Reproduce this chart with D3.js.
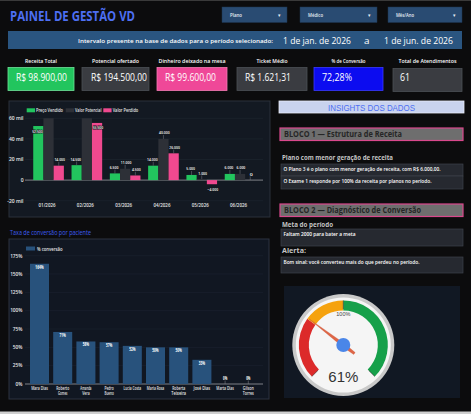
<!DOCTYPE html>
<html>
<head>
<meta charset="utf-8">
<script src="https://cdn.jsdelivr.net/npm/d3@7"></script>
<style>
  html, body { margin: 0; padding: 0; background: #0c0c0d; overflow: hidden; }
  svg { display: block; font-family: "Open Sans", sans-serif; }
</style>
</head>
<body>
<div id="painel"></div>
<script>
// ---- dados ----
const filtros = ["Plano", "Médico", "Mês/Ano"];
const periodoInicio = "1 de jan. de 2026";
const periodoFim = "1 de jun. de 2026";

const kpiTitulos = ["Receita Total", "Potencial ofertado", "Dinheiro deixado na mesa", "Ticket Médio", "% de Conversão", "Total de Atendimentos"];
const kpiValores = ["R$ 98.900,00", "R$ 194.500,00", "R$ 99.600,00", "R$ 1.621,31", "72,28%", "61"];

const meses = ["01/2026", "02/2026", "03/2026", "04/2026", "05/2026", "06/2026"];
const precoVendido = [52500, 14500, 6500, 14000, 5000, 6000];
const valorPotencial = [66500, 70000, 11000, 40000, 1000, 6000];
const valorPerdido = [14000, 55500, 4500, 26000, -4000, 0];
const ticksReceita = [-20000, 0, 20000, 40000, 60000];

const pacientes = ["Mara Dias", "Roberto Gomes", "Amanda Vera", "Pedro Bueno", "Lucia Costa", "Maria Rosa", "Roberta Teixeira", "José Dias", "Marta Dias", "Gilson Torres"];
const conversao = [164, 71, 58, 57, 52, 50, 50, 33, 0, 0];
const ticksConversao = [0, 25, 50, 75, 100, 125, 150, 175];
const nomesEmDuasLinhas = ["Roberto Gomes", "Amanda Vera", "Pedro Bueno", "Roberta Teixeira", "Gilson Torres"];

const conversaoGeral = 61;
const faixasGauge = [0, 60, 100, 200];

const W = 471, H = 414;
const svg = d3.select("#painel").append("svg").attr("width", W).attr("height", H);

svg.append("rect").attr("width", W).attr("height", H).attr("fill", "#0c0c0d");
svg.append("rect").attr("width", W).attr("height", 1).attr("fill", "#3a3a3a");
svg.append("rect").attr("y", 411.5).attr("width", W).attr("height", 3).attr("fill", "#cfcfcf");

// texto com largura fixa
function txt(g, x, y, s, size, fill, o = {}) {
    const t = g.append("text").attr("x", x).attr("y", y).text(s)
        .attr("font-size", size).attr("fill", fill);
    if (o.w) t.attr("textLength", o.w).attr("lengthAdjust", "spacingAndGlyphs");
    if (o.anchor) t.attr("text-anchor", o.anchor);
    if (o.weight) t.attr("font-weight", o.weight);
    if (o.family) t.attr("font-family", o.family);
    return t;
}

// ---- cabeçalho ----
txt(svg, 10, 20.5, "PAINEL DE GESTÃO VD", 13.5, "#4d6ff2", { w: 125, weight: 700 });

const dropX = [[222, 287], [300, 377], [388, 462]];
const dropW = [12, 15, 18];
filtros.forEach((f, i) => {
    svg.append("rect").attr("x", dropX[i][0]).attr("y", 7).attr("width", dropX[i][1] - dropX[i][0])
        .attr("height", 15.5).attr("fill", "#294b72").attr("stroke", "#1d3550").attr("stroke-width", 0.5);
    txt(svg, dropX[i][0] + 8, 16.5, f, 4.5, "#e8eef5", { w: dropW[i], weight: 600 });
    txt(svg, dropX[i][1] - 8, 16.5, "▾", 5, "#e8eef5", { anchor: "middle" });
});

svg.append("rect").attr("x", 8).attr("y", 31).attr("width", 454).attr("height", 18).attr("fill", "#2a5580");
txt(svg, 78, 43, "Intervalo presente na base de dados para o período selecionado:", 6, "#ffffff", { w: 195, weight: 600 });
txt(svg, 283, 43.5, periodoInicio, 9.5, "#ffffff", { w: 68 });
txt(svg, 364, 44, "a", 9.5, "#ffffff", { w: 5.5 });
txt(svg, 384, 43.5, periodoFim, 9.5, "#ffffff", { w: 69 });

// ---- KPIs ----
const kpiBox = [[8, 74], [82, 149], [157, 227], [237, 307], [314, 383], [393, 462]];
const kpiFill = ["#22c55e", "#3a3c41", "#ef4898", "#3a3c41", "#0c0cf0", "#3a3c41"];
const kpiStroke = ["#6fe39a", "#4d5056", "#f47ab4", "#4d5056", "#3a3aff", "#4d5056"];
const kpiTitW = [32, 47, 67, 31, 34, 58];
const kpiValX = [16, 91, 165, 245, 322, 400];
const kpiValW = [51, 56, 51, 46, 30, 10];
kpiTitulos.forEach((k, i) => {
    const [x0, x1] = kpiBox[i];
    txt(svg, (x0 + x1) / 2, 63, k, 5.5, "#ffffff", { w: kpiTitW[i], anchor: "middle", weight: 600 });
    svg.append("rect").attr("x", x0).attr("y", i === 5 ? 68.5 : 67.5).attr("width", x1 - x0).attr("height", 23)
        .attr("fill", kpiFill[i]).attr("stroke", kpiStroke[i]).attr("stroke-width", 0.8);
    txt(svg, kpiValX[i], 80.5, kpiValores[i], 10, "#ffffff", { w: kpiValW[i] });
});

// ---- gráfico de receita por mês ----
const g1 = svg.append("g");
g1.append("rect").attr("x", 9).attr("y", 101).attr("width", 261).attr("height", 116)
    .attr("fill", "#131922").attr("stroke", "#2b313b").attr("stroke-width", 1);

const y1 = d3.scaleLinear().domain([-20000, 60000]).range([200.7, 118.3]);
const x1 = d3.scaleBand().domain(meses).range([29.4, 259.2]).paddingInner(0.2).paddingOuter(0.1);
const series = [
    { nome: "Preço Vendido", valores: precoVendido, cor: "#22c55e" },
    { nome: "Valor Potencial", valores: valorPotencial, cor: "#2d3037" },
    { nome: "Valor Perdido", valores: valorPerdido, cor: "#f0498f" }
];
const xs = d3.scaleBand().domain(series.map(s => s.nome)).range([0, x1.bandwidth()]);

g1.selectAll(".grid").data(ticksReceita).enter().append("line")
    .attr("x1", 25).attr("x2", 263).attr("y1", d => y1(d)).attr("y2", d => y1(d))
    .attr("stroke", d => d === 0 ? "#8a8d93" : "#1f2631").attr("stroke-width", d => d === 0 ? 0.9 : 0.6);

const fmtMil = d => d === 0 ? "0" : (d / 1000) + " mil";
g1.selectAll(".ytk").data(ticksReceita).enter().append("text")
    .attr("x", 23.5).attr("y", d => y1(d) + 1.8).attr("text-anchor", "end")
    .attr("font-size", 5).attr("font-weight", 600).attr("fill", "#e6e6e6").text(fmtMil);

g1.selectAll(".xtk").data(meses).enter().append("text")
    .attr("x", d => x1(d) + x1.bandwidth() / 2 - 1.5).attr("y", 207)
    .attr("text-anchor", "middle").attr("font-size", 5).attr("font-weight", 600).attr("fill", "#e6e6e6")
    .attr("textLength", 17).attr("lengthAdjust", "spacingAndGlyphs").text(d => d);

g1.append("clipPath").attr("id", "clipReceita").append("rect")
    .attr("x", 20).attr("y", y1(60000)).attr("width", 250).attr("height", y1(-20000) - y1(60000));

const fmtNum = d3.formatLocale({ decimal: ",", thousands: ".", grouping: [3], currency: ["R$ ", ""] }).format(",.0f");
const barras = [];
series.forEach((s, si) => s.valores.forEach((v, i) => barras.push({ serie: s, si, mes: meses[i], v })));

const gb = g1.append("g").attr("clip-path", "url(#clipReceita)");
gb.selectAll("rect").data(barras).enter().append("rect")
    .attr("x", d => x1(d.mes) + xs(d.serie.nome))
    .attr("y", d => y1(Math.max(0, d.v)))
    .attr("width", xs.bandwidth())
    .attr("height", d => Math.abs(y1(d.v) - y1(0)))
    .attr("fill", d => d.serie.cor);

const desloc = [-0.9, 0.9, 0.9];
barras.filter(d => d.v <= 60000).forEach(d => {
    const cx = x1(d.mes) + xs(d.serie.nome) + xs.bandwidth() / 2;
    let ly;
    if (d.v > 48000) ly = y1(d.v) + 6.5;
    else if (d.v < 0) ly = y1(d.v) + 7;
    else {
        ly = y1(d.v) - 4.5;
        const top = y1(d.v);
        g1.append("line").attr("x1", cx).attr("x2", cx).attr("y1", top).attr("y2", top - 4)
            .attr("stroke", "#7c7f86").attr("stroke-width", 0.5);
    }
    const s = fmtNum(d.v);
    g1.append("text").attr("x", cx + desloc[d.si]).attr("y", ly).attr("text-anchor", "middle")
        .attr("font-size", 4.3).attr("font-weight", 600).attr("fill", "#ffffff")
        .attr("stroke", "#15181e").attr("stroke-width", 1.2).attr("paint-order", "stroke")
        .attr("textLength", Math.max(3, s.length * 1.75)).attr("lengthAdjust", "spacingAndGlyphs")
        .text(s);
});

const legX = [[26.7, 36], [65.7, 75], [103.3, 112.7]];
const legW = [27, 26.5, 25.5];
series.forEach((s, i) => {
    g1.append("rect").attr("x", legX[i][0]).attr("y", 108.3).attr("width", 8.3).attr("height", 4).attr("fill", s.cor);
    txt(g1, legX[i][1], 112, s.nome, 4.8, "#e6e6e6", { w: legW[i], weight: 600 });
});

// ---- insights ----
const gi = svg.append("g");
gi.append("rect").attr("x", 279).attr("y", 101).attr("width", 185).attr("height", 12)
    .attr("fill", "#c9d3ee").attr("stroke", "#e8ecf8").attr("stroke-width", 0.8);
txt(gi, 371.5, 110.5, "INSIGHTS DOS DADOS", 9.5, "#4d6ff2", { w: 87, anchor: "middle", family: "Liberation Sans, Arial, sans-serif" });

function bloco(y, titulo, w) {
    gi.append("rect").attr("x", 280).attr("y", y).attr("width", 183).attr("height", 12.5)
        .attr("fill", "#6e6e6e").attr("stroke", "#d9488c").attr("stroke-width", 1.2);
    txt(gi, 284, y + 9.3, titulo, 8, "#262626", { w, weight: 700 });
}
function caixa(y, h, texto, w) {
    gi.append("rect").attr("x", 281).attr("y", y).attr("width", 182).attr("height", h)
        .attr("fill", "#262930").attr("stroke", "#3e424b").attr("stroke-width", 0.7);
    txt(gi, 283.5, y + 7.2, texto, 5, "#ffffff", { w, weight: 600 });
}
bloco(128, "BLOCO 1 — Estrutura de Receita", 118);
txt(gi, 282, 160, "Plano com menor geração de receita", 6.5, "#c4c4c4", { w: 111, weight: 700 });
caixa(164, 12, "O Plano 3 é o plano com menor geração de receita, com R$ 6.000,00.", 157);
caixa(176, 13, "O Exame 1 responde por 100% da receita por planos no período.", 148);
bloco(204, "BLOCO 2 — Diagnóstico de Conversão", 137);
txt(gi, 282, 226.5, "Meta do período", 6.5, "#c4c4c4", { w: 51, weight: 700 });
caixa(229, 17, "Faltam 2000 para bater a meta", 72);
txt(gi, 282, 253, "Alerta:", 6.5, "#c4c4c4", { w: 24, weight: 700 });
caixa(257, 16, "Bom sinal: você converteu mais do que perdeu no período.", 136);

// ---- taxa de conversão por paciente ----
const g2 = svg.append("g");
txt(g2, 10, 235, "Taxa de conversão por paciente", 7, "#3d5cf0", { w: 81 });
g2.append("rect").attr("x", 9).attr("y", 239).attr("width", 260).attr("height", 160)
    .attr("fill", "#111722").attr("stroke", "#2c3340").attr("stroke-width", 1);

const y2 = d3.scaleLinear().domain([0, 175]).range([384, 255.7]);
const x2 = d3.scaleBand().domain(pacientes).range([27.9, 259.9]).paddingInner(0.18).paddingOuter(0.09);

g2.selectAll(".grid").data(ticksConversao).enter().append("line")
    .attr("x1", 25).attr("x2", 263).attr("y1", d => y2(d)).attr("y2", d => y2(d))
    .attr("stroke", d => d === 0 ? "#8a8d93" : "#1d2430").attr("stroke-width", d => d === 0 ? 0.9 : 0.6);
g2.selectAll(".ytk").data(ticksConversao).enter().append("text")
    .attr("x", 22.5).attr("y", d => y2(d) + 1.8).attr("text-anchor", "end")
    .attr("font-size", 4.8).attr("font-weight", 600).attr("fill", "#e6e6e6").text(d => d + "%");

g2.selectAll(".bar").data(pacientes).enter().append("rect")
    .attr("x", d => x2(d)).attr("width", x2.bandwidth())
    .attr("y", (d, i) => y2(conversao[i])).attr("height", (d, i) => y2(0) - y2(conversao[i]))
    .attr("fill", "#28527c");

pacientes.forEach((p, i) => {
    const cx = x2(p) + x2.bandwidth() / 2;
    const v = conversao[i];
    let ly = y2(v) + 4.8;
    if (v === 0) {
        ly = y2(v) - 4.5;
        g2.append("line").attr("x1", cx).attr("x2", cx).attr("y1", y2(0)).attr("y2", y2(0) - 3.5)
            .attr("stroke", "#8a8d93").attr("stroke-width", 0.5);
    }
    const s = v + "%";
    g2.append("text").attr("x", cx).attr("y", ly).attr("text-anchor", "middle")
        .attr("font-size", 4.6).attr("font-weight", 700).attr("fill", "#ffffff")
        .attr("textLength", s.length * 2.1).attr("lengthAdjust", "spacingAndGlyphs").text(s);
    const linhas = nomesEmDuasLinhas.includes(p) ? p.split(" ") : [p];
    linhas.forEach((l, j) => {
        g2.append("text").attr("x", cx).attr("y", 390 + j * 4.6).attr("text-anchor", "middle")
            .attr("font-size", 4.4).attr("font-weight", 600).attr("fill", "#e6e6e6")
            .attr("textLength", Math.min(17.5, l.length * 1.85)).attr("lengthAdjust", "spacingAndGlyphs")
            .text(l);
    });
});

g2.append("rect").attr("x", 26).attr("y", 246.5).attr("width", 9).attr("height", 4).attr("fill", "#28527c");
txt(g2, 37, 250.5, "% conversão", 4.8, "#e6e6e6", { w: 25.5, weight: 600 });

// ---- gauge ----
const g3 = svg.append("g");
g3.append("rect").attr("x", 284).attr("y", 286).attr("width", 176).attr("height", 112).attr("fill", "#111823");
const cxG = 343.3, cyG = 345;
const ang = d3.scaleLinear().domain([0, 200]).range([-135 * Math.PI / 180, 135 * Math.PI / 180]);
const gg = g3.append("g").attr("transform", `translate(${cxG},${cyG})`);
gg.append("circle").attr("r", 51).attr("fill", "#c9c9c9");
gg.append("circle").attr("r", 47.5).attr("fill", "#f5f5f5");
const coresGauge = ["#dc2a2a", "#f5a20e", "#16a04a"];
const arco = d3.arc().innerRadius(34.5).outerRadius(44.5);
coresGauge.forEach((c, i) => {
    gg.append("path").attr("d", arco({ startAngle: ang(faixasGauge[i]), endAngle: ang(faixasGauge[i + 1]) })).attr("fill", c);
});
[0, 100, 200].forEach(v => {
    const a = ang(v);
    gg.append("line")
        .attr("x1", Math.sin(a) * 36).attr("y1", -Math.cos(a) * 36)
        .attr("x2", Math.sin(a) * 44.5).attr("y2", -Math.cos(a) * 44.5)
        .attr("stroke", "#333").attr("stroke-width", 0.6);
});
gg.append("text").attr("x", 0).attr("y", -29).attr("text-anchor", "middle")
    .attr("font-size", 5.5).attr("fill", "#444").attr("font-family", "Liberation Sans, Arial, sans-serif").text("100%");
gg.append("text").attr("x", 0).attr("y", 36.5).attr("text-anchor", "middle")
    .attr("font-size", 15).attr("fill", "#333").attr("font-family", "Liberation Sans, Arial, sans-serif").text(conversaoGeral + "%");

const aN = ang(conversaoGeral);
const ux = Math.sin(aN), uy = -Math.cos(aN);
const px = -uy, py = ux;
const ponta = [ux * 43, uy * 43], cauda = [-ux * 14, -uy * 14];
gg.append("path")
    .attr("d", `M${ponta[0]},${ponta[1]} L${px * 1.8},${py * 1.8} L${cauda[0] + px * 1.2},${cauda[1] + py * 1.2} L${cauda[0] - px * 1.2},${cauda[1] - py * 1.2} L${-px * 1.8},${-py * 1.8} Z`)
    .attr("fill", "#de6646").attr("stroke", "#c9553a").attr("stroke-width", 0.3);
gg.append("circle").attr("r", 7).attr("fill", "#4a86e8");
</script>
</body>
</html>
